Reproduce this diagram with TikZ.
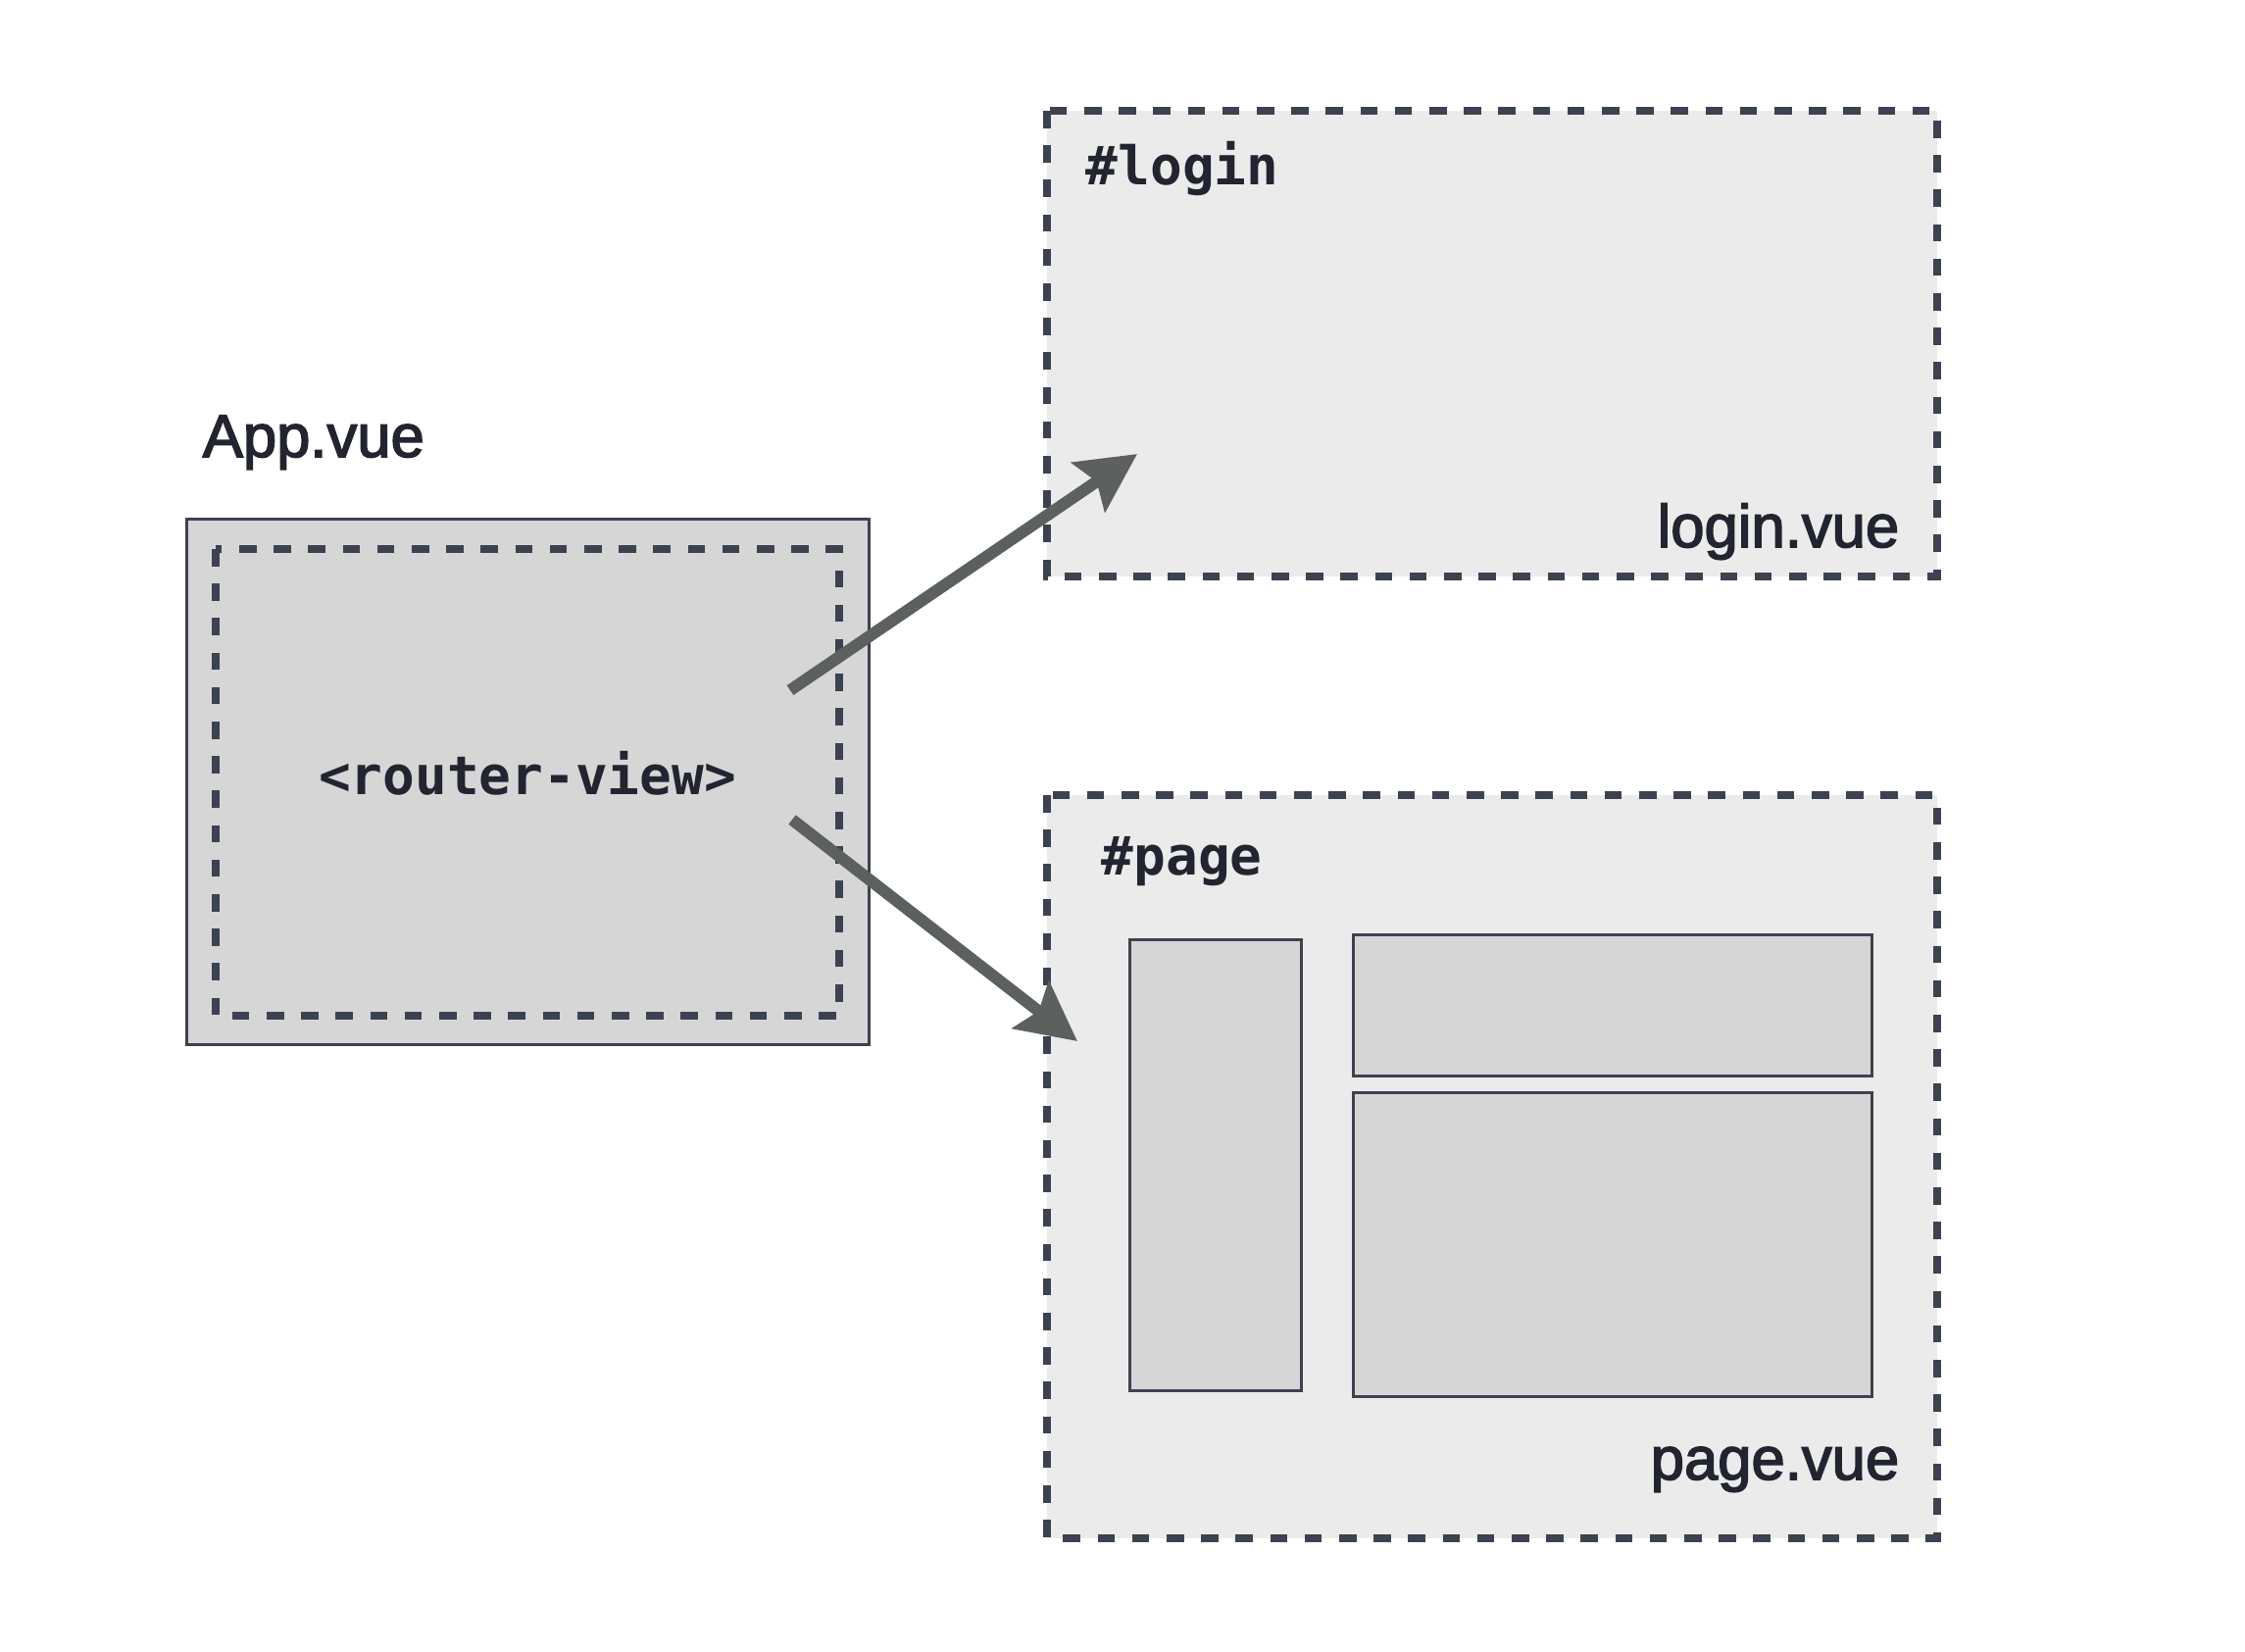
\documentclass[tikz,border=0pt]{standalone}
\usepackage{fontspec}
\setmainfont{Liberation Sans}
\newfontfamily\labelfont[FakeBold=2.5]{Liberation Sans}
\newfontfamily\codefont{DejaVu Sans Mono}
\usetikzlibrary{arrows.meta}
\definecolor{edge}{HTML}{3D4250}
\definecolor{ink}{HTML}{22252F}
\definecolor{darkfill}{HTML}{D6D6D6}
\definecolor{lightfill}{HTML}{EBEBEB}
\definecolor{arrowgray}{HTML}{5C605E}
\tikzset{
  solidbox/.style={draw=edge, line width=0.75pt, fill=darkfill},
  dashbox/.style={draw=edge, line width=2pt, dash pattern=on 4.4pt off 4.4pt},
  vuelabel/.style={inner sep=0pt, text=ink, font=\labelfont\fontsize{15.4}{18}\selectfont},
  codelabel/.style={inner sep=0pt, text=ink, font=\codefont\bfseries\fontsize{13.6}{16}\selectfont},
  flow/.style={draw=arrowgray, line width=3pt, -{Stealth[length=15pt,width=15pt,inset=2.5pt]}}
}
\begin{document}
\begin{tikzpicture}[x=0.25pt,y=-0.25pt]
\useasboundingbox (0,0) rectangle (2290,1684);
% App.vue
\path[solidbox] (190,529) rectangle (886,1065);
\path[dashbox] (220,560) rectangle (856,1036);
\node[vuelabel, anchor=base west] (applabel) at (206,466) {App.vue};
\node[codelabel, anchor=base] (rv) at (538,810) {<router-view>};
% login
\path[dashbox, fill=lightfill] (1068,113) rectangle (1976,588);
\node[codelabel, anchor=base west] (loginid) at (1107,188) {\#login};
\node[vuelabel, anchor=base east] (loginvue) at (1938,558) {login.vue};
% page
\path[dashbox, fill=lightfill] (1068,811) rectangle (1976,1569);
\node[codelabel, anchor=base west] (pageid) at (1123,892) {\#page};
\node[vuelabel, anchor=base east] (pagevue) at (1938,1509) {page.vue};
\path[solidbox] (1152,958) rectangle (1327,1418);
\path[solidbox] (1380,953) rectangle (1909,1097);
\path[solidbox] (1380,1114) rectangle (1909,1424);
% arrows
\coordinate (s1) at (806,704);
\coordinate (t1) at (1160,463);
\coordinate (s2) at (808,836);
\coordinate (t2) at (1099,1062);
\draw[flow] (s1) -- (t1);
\draw[flow] (s2) -- (t2);
\end{tikzpicture}
\end{document}
